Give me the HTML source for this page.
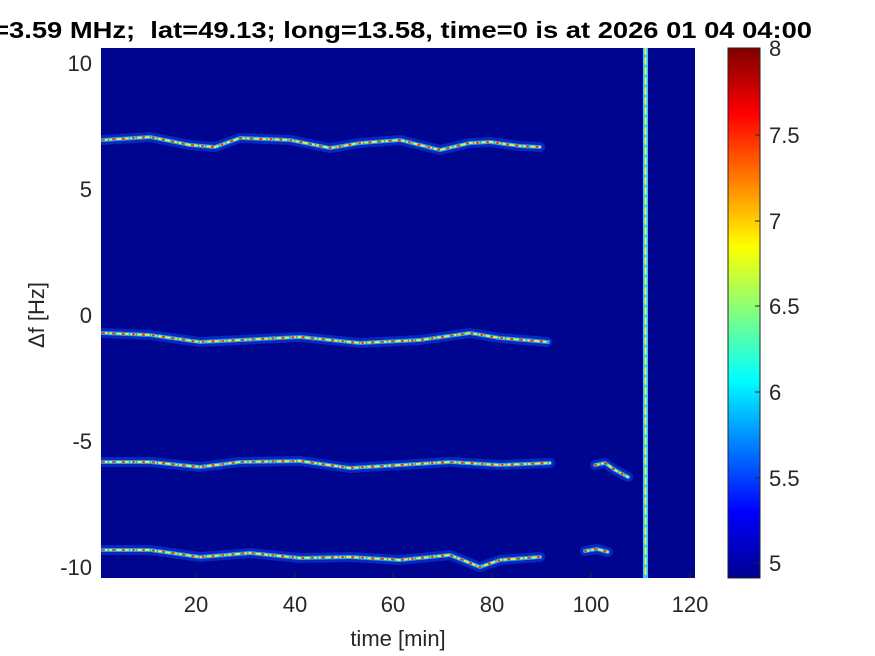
<!DOCTYPE html>
<html><head><style>body{margin:0;background:#fff}svg{display:block}</style></head><body>
<svg width="875" height="656" xmlns="http://www.w3.org/2000/svg" font-family="Liberation Sans, Arial, sans-serif">
<defs>
<linearGradient id="jet" x1="0" y1="1" x2="0" y2="0">
<stop offset="0" stop-color="#00008f"/><stop offset="0.125" stop-color="#0000ff"/><stop offset="0.375" stop-color="#00ffff"/><stop offset="0.625" stop-color="#ffff00"/><stop offset="0.875" stop-color="#ff0000"/><stop offset="1" stop-color="#800000"/>
</linearGradient>
<clipPath id="c"><rect x="101" y="48" width="594" height="530"/></clipPath>
</defs>
<text x="-16" y="38" font-size="23" font-weight="bold" fill="#000" textLength="828" lengthAdjust="spacingAndGlyphs" xml:space="preserve">f=3.59 MHz;  lat=49.13; long=13.58, time=0 is at 2026 01 04 04:00</text>
<rect x="101" y="48" width="594" height="530" fill="#000590"/>
<g clip-path="url(#c)" fill="none" stroke-linejoin="round" stroke-linecap="round">
<g id="t">
<polyline points="103,140 150,137 190,145 215,147 240,138 290,140 330,148 360,143 400,140 440,150 470,143 490,142 520,146 540,147"/>
<polyline points="103,333 150,335 200,342 240,340 300,337 360,343 420,340 470,333 500,338 548,342"/>
<polyline points="103,462 150,462 200,467 240,462 300,461 350,468 400,465 450,462 500,465 550,463"/>
<polyline points="103,550 150,550 200,557 250,553 300,558 350,557 400,560 450,555 480,567 500,560 540,557"/>
<polyline points="595,465 605,463 615,470 628,477"/>
<polyline points="585,551 597,549 608,552"/>
</g>
<use href="#t" stroke="#1050ff" stroke-width="10" opacity="0.45" stroke-dasharray="5 2"/>
<use href="#t" stroke="#20c0ff" stroke-width="4" opacity="0.8" stroke-dasharray="3 2"/>
<use href="#t" stroke="#e0f040" stroke-width="2" stroke-dasharray="4 3"/>
<use href="#t" stroke="#ff3000" stroke-width="2" stroke-dasharray="1 9"/>
<rect x="643" y="48" width="5" height="530" fill="#30c8ff"/>
<line x1="645.5" y1="48" x2="645.5" y2="578" stroke="#e8f040" stroke-width="2" stroke-dasharray="6 4"/>
</g>
<g stroke="#262626" stroke-width="1">
<line x1="196" y1="578" x2="196" y2="572"/><line x1="295" y1="578" x2="295" y2="572"/><line x1="393" y1="578" x2="393" y2="572"/><line x1="492" y1="578" x2="492" y2="572"/><line x1="591" y1="578" x2="591" y2="572"/><line x1="690" y1="578" x2="690" y2="572"/>
</g>
<g font-size="22" fill="#262626" text-anchor="middle">
<text x="196" y="612">20</text><text x="295" y="612">40</text><text x="393" y="612">60</text><text x="492" y="612">80</text><text x="591" y="612">100</text><text x="690" y="612">120</text>
<text x="398" y="646">time [min]</text>
</g>
<g font-size="22" fill="#262626" text-anchor="end">
<text x="92" y="71">10</text><text x="92" y="197">5</text><text x="92" y="323">0</text><text x="92" y="449">-5</text><text x="92" y="575">-10</text>
</g>
<text transform="translate(44,315) rotate(-90)" font-size="22" fill="#262626" text-anchor="middle">Δf [Hz]</text>
<rect x="728" y="48" width="32" height="530" fill="url(#jet)" stroke="#262626" stroke-width="1"/>
<g stroke="#262626"><line x1="755" y1="135" x2="760" y2="135"/><line x1="755" y1="221" x2="760" y2="221"/><line x1="755" y1="306" x2="760" y2="306"/><line x1="755" y1="392" x2="760" y2="392"/><line x1="755" y1="478" x2="760" y2="478"/><line x1="755" y1="563" x2="760" y2="563"/></g>
<g font-size="22" fill="#262626">
<text x="769" y="56">8</text><text x="769" y="143">7.5</text><text x="769" y="229">7</text><text x="769" y="314">6.5</text><text x="769" y="400">6</text><text x="769" y="486">5.5</text><text x="769" y="571">5</text>
</g>
</svg>
</body></html>
